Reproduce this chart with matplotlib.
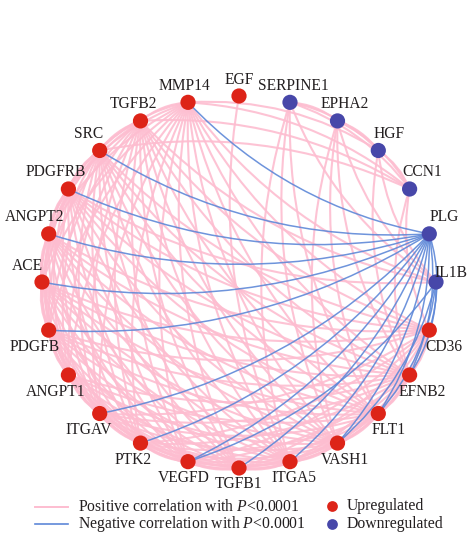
import numpy as np
import matplotlib
matplotlib.use("Agg")
import matplotlib.pyplot as plt
from matplotlib.path import Path
from matplotlib.patches import PathPatch

plt.rcParams['font.family'] = ['Liberation Serif', 'DejaVu Serif']
plt.rcParams['mathtext.fontset'] = 'custom'
plt.rcParams['mathtext.rm'] = 'Liberation Serif'
plt.rcParams['mathtext.it'] = 'Liberation Serif:italic'

# ---------------- data ----------------
# genes in counter-clockwise order around the circle, starting at CCN1
genes = ["CCN1", "HGF", "EPHA2", "SERPINE1", "EGF", "MMP14", "TGFB2", "SRC",
         "PDGFRB", "ANGPT2", "ACE", "PDGFB", "ANGPT1", "ITGAV", "PTK2", "VEGFD",
         "TGFB1", "ITGA5", "VASH1", "FLT1", "EFNB2", "CD36", "IL1B", "PLG"]
downregulated = ["CCN1", "HGF", "EPHA2", "SERPINE1", "IL1B", "PLG"]

positive_edges = {
    "CCN1": ["HGF", "EPHA2", "SERPINE1", "MMP14", "TGFB2", "SRC", "CD36", "EFNB2"],
    "HGF": ["EPHA2", "SERPINE1", "MMP14", "EFNB2", "IL1B"],
    "EPHA2": ["SERPINE1", "FLT1", "EFNB2", "IL1B", "VASH1"],
    "SERPINE1": ["ITGA5", "VASH1", "FLT1", "IL1B"],
    "EGF": ["ITGA5"],
    "MMP14": ["TGFB2", "SRC", "PDGFRB", "ANGPT2", "ACE", "PDGFB", "ANGPT1", "ITGAV",
              "PTK2", "VEGFD", "TGFB1", "ITGA5", "VASH1", "FLT1", "EFNB2", "CD36",
              "IL1B"],
    "TGFB2": ["SRC", "PDGFRB", "ANGPT2", "ACE", "PDGFB", "ANGPT1", "ITGAV", "PTK2",
              "VEGFD", "TGFB1", "ITGA5", "VASH1", "FLT1", "EFNB2", "CD36", "IL1B"],
    "SRC": ["PDGFRB", "ANGPT2", "ACE", "PDGFB", "ANGPT1", "ITGAV", "PTK2", "VEGFD",
            "TGFB1", "ITGA5", "VASH1", "FLT1", "EFNB2", "CD36"],
    "PDGFRB": ["ANGPT2", "ACE", "PDGFB", "ANGPT1", "ITGAV", "PTK2", "VEGFD", "TGFB1",
               "ITGA5", "VASH1", "FLT1", "EFNB2", "CD36", "IL1B"],
    "ANGPT2": ["ACE", "PDGFB", "ANGPT1", "ITGAV", "PTK2", "VEGFD", "TGFB1", "ITGA5",
               "VASH1", "FLT1", "EFNB2", "CD36"],
    "ACE": ["PDGFB", "ANGPT1", "ITGAV", "PTK2", "VEGFD", "TGFB1", "ITGA5", "VASH1",
            "FLT1", "EFNB2", "CD36"],
    "PDGFB": ["ANGPT1", "ITGAV", "PTK2", "VEGFD", "TGFB1", "ITGA5", "VASH1", "FLT1",
              "EFNB2", "CD36"],
    "ANGPT1": ["ITGAV", "PTK2", "VEGFD", "TGFB1", "ITGA5", "VASH1", "FLT1", "EFNB2"],
    "ITGAV": ["PTK2", "VEGFD", "TGFB1", "ITGA5", "VASH1", "FLT1", "EFNB2", "CD36"],
    "PTK2": ["VEGFD", "TGFB1", "ITGA5", "VASH1", "FLT1", "EFNB2", "CD36"],
    "VEGFD": ["TGFB1", "ITGA5", "VASH1", "FLT1", "EFNB2", "CD36"],
    "TGFB1": ["ITGA5", "VASH1", "FLT1", "EFNB2", "CD36"],
    "ITGA5": ["VASH1", "FLT1", "EFNB2", "CD36"],
    "VASH1": ["FLT1", "EFNB2", "CD36"],
    "FLT1": ["EFNB2", "CD36"],
    "EFNB2": ["CD36"],
}
negative_edges = {
    "PLG": ["MMP14", "SRC", "PDGFRB", "ANGPT2", "ACE", "PDGFB", "ITGAV", "PTK2",
            "VEGFD", "TGFB1", "ITGA5", "VASH1", "FLT1", "EFNB2", "CD36"],
    "IL1B": ["VEGFD", "VASH1", "FLT1", "EFNB2"],
}

legend_lines = ["Positive correlation with $\\mathit{P}$<0.0001",
                "Negative correlation with $\\mathit{P}$<0.0001"]
legend_nodes = ["Upregulated", "Downregulated"]

# ---------------- style ----------------
PINK = "#FDBDD0"
BLUE = "#5E88D8"
RED = "#DD2418"
NAVY = "#4747A9"
TXT = "#231F20"
CX, CY, RX, RY = 239, 282, 197, 186
RAD = 0.16

fig = plt.figure(figsize=(4.68, 5.37), dpi=100)
ax = fig.add_axes([0, 0, 1, 1])
ax.set_xlim(0, 468)
ax.set_ylim(537, 0)
ax.axis("off")

idx = {g: i for i, g in enumerate(genes)}
ang = {g: np.deg2rad(30 + 15 * i) for i, g in enumerate(genes)}
pos = {g: (CX + RX * np.cos(a), CY - RY * np.sin(a)) for g, a in ang.items()}


def draw_edge(a, b, color, lw, z):
    if idx[a] > idx[b]:
        a, b = b, a
    x0, y0 = pos[a][0], -pos[a][1]
    x2, y2 = pos[b][0], -pos[b][1]
    dx, dy = x2 - x0, y2 - y0
    cx = (x0 + x2) / 2 + RAD * dy
    cy = (y0 + y2) / 2 - RAD * dx
    verts = [(x0, -y0), (cx, -cy), (x2, -y2)]
    p = Path(verts, [Path.MOVETO, Path.CURVE3, Path.CURVE3])
    ax.add_patch(PathPatch(p, facecolor="none", edgecolor=color, lw=lw,
                           alpha=0.9, zorder=z, capstyle="round"))


for s, ts in positive_edges.items():
    for t in ts:
        draw_edge(s, t, PINK, 1.5, 1)
for s, ts in negative_edges.items():
    for t in ts:
        draw_edge(s, t, BLUE, 1.1, 2)

xs = [pos[g][0] for g in genes]
ys = [pos[g][1] for g in genes]
cols = [NAVY if g in downregulated else RED for g in genes]
ax.scatter(xs, ys, s=120, c=cols, zorder=3, linewidths=0)

for g in genes:
    a = ang[g]
    x, y = pos[g]
    dxl = 15 * np.cos(a)
    dyl = -16.5 if np.sin(a) >= -0.01 else 16.5
    if g == "IL1B":
        dyl = -9
    ax.text(x + dxl, y + dyl, g, ha="center", va="center", fontsize=11.2,
            color=TXT, zorder=4)

# legend
ax.plot([35, 68], [507, 507], color=PINK, lw=1.4)
ax.plot([35, 68], [524, 524], color=BLUE, lw=1.2)
ax.text(78, 507, legend_lines[0], ha="left", va="center", fontsize=11.3, color=TXT)
ax.text(78, 524, legend_lines[1], ha="left", va="center", fontsize=11.3, color=TXT)
ax.scatter([332], [506], s=60, c=RED, linewidths=0)
ax.scatter([332], [524], s=60, c=NAVY, linewidths=0)
ax.text(347, 506, legend_nodes[0], ha="left", va="center", fontsize=11.3, color=TXT)
ax.text(347, 524, legend_nodes[1], ha="left", va="center", fontsize=11.3, color=TXT)

fig.savefig("out.png", dpi=100)
